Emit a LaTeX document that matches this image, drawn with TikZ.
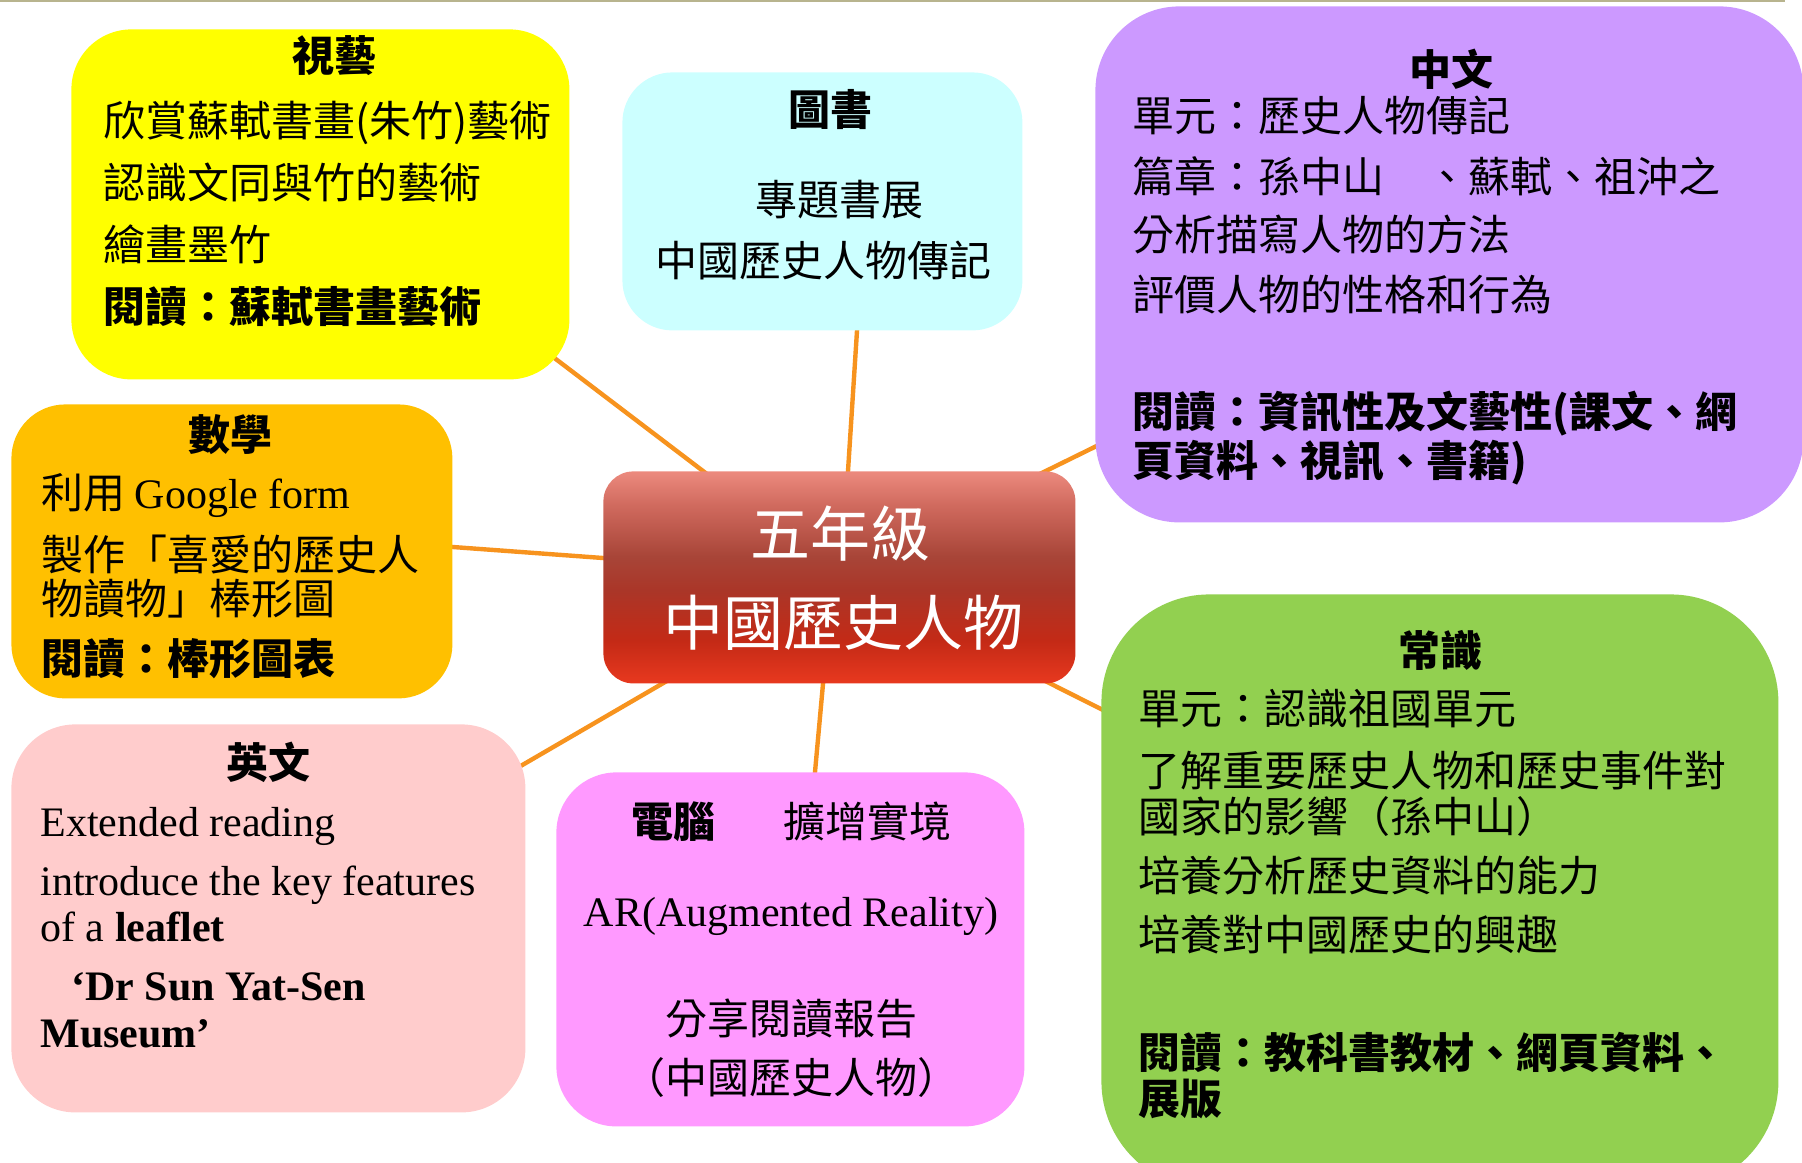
\documentclass[tikz,border=0pt]{standalone}
\usepackage{fontspec}
\setmainfont{Liberation Serif}
\newfontfamily\cjk{Noto Sans CJK TC}
\usetikzlibrary{calc}
\definecolor{cyel}{HTML}{FFFF00}
\definecolor{ccyan}{HTML}{CCFFFF}
\definecolor{cpurp}{HTML}{CC99FF}
\definecolor{cgold}{HTML}{FFC000}
\definecolor{cpink}{HTML}{FFCCCC}
\definecolor{cmag}{HTML}{FF99FF}
\definecolor{cgreen}{HTML}{92D050}
\definecolor{clink}{HTML}{F7931E}
\definecolor{ctopl}{HTML}{B8B48E}
\definecolor{sA}{HTML}{EC8A7E}
\definecolor{sB}{HTML}{D06A5E}
\definecolor{sC}{HTML}{A84538}
\definecolor{sD}{HTML}{AA3628}
\definecolor{sE}{HTML}{C42A16}
\definecolor{sF}{HTML}{E8391F}
\pgfdeclareverticalshading{ctrshade}{100bp}{color(0bp)=(sF); color(25bp)=(sF); color(35bp)=(sE); color(47bp)=(sD); color(55bp)=(sC); color(67bp)=(sB); color(75bp)=(sA); color(100bp)=(sA)}
\pgfdeclarelayer{background}
\pgfsetlayers{background,main}
\tikzset{
  panel/.style={draw=none, inner sep=0pt, anchor=north west, rectangle},
  bt/.style={anchor=base west, inner sep=0pt, font=\cjk\fontsize{21}{25}\selectfont},
  bb/.style={anchor=base west, inner sep=0pt, font=\cjk\bfseries\fontsize{21}{25}\selectfont},
  ct/.style={anchor=base, inner sep=0pt, font=\cjk\fontsize{21}{25}\selectfont},
  cb/.style={anchor=base, inner sep=0pt, font=\cjk\bfseries\fontsize{21}{25}\selectfont},
  lt/.style={anchor=base west, inner sep=0pt, font=\rmfamily\fontsize{21}{25}\selectfont},
  lb/.style={anchor=base west, inner sep=0pt, font=\rmfamily\bfseries\fontsize{21}{25}\selectfont},
  wt/.style={anchor=base, inner sep=0pt, text=white, font=\cjk\fontsize{30}{36}\selectfont},
  linkline/.style={draw=clink, line width=2.2pt, shorten <=-5pt, shorten >=-5pt},
}
\begin{document}
\begin{tikzpicture}[x=0.5pt,y=-0.5pt]
\useasboundingbox (0,0) rectangle (1802,1162);
\draw[ctopl, line width=1pt] (0,1) -- (1785,1);

% panels
\node[panel, fill=cyel, minimum width=249pt, minimum height=175pt, rounded corners=30pt] (viz) at (71,29) {};
\node[panel, fill=ccyan, minimum width=200pt, minimum height=129pt, rounded corners=25pt] (lib) at (622,72) {};
\node[panel, fill=cpurp, minimum width=354pt, minimum height=258pt, rounded corners=42pt] (chi) at (1095,6) {};
\node[panel, fill=cgold, minimum width=220.5pt, minimum height=147pt, rounded corners=27pt] (mat) at (11,404) {};
\node[panel, shade, shading=ctrshade, minimum width=236pt, minimum height=106pt, rounded corners=15pt] (ctr) at (603,471) {};
\node[panel, fill=cpink, minimum width=257pt, minimum height=194pt, rounded corners=32pt] (eng) at (11,724) {};
\node[panel, fill=cmag, minimum width=234pt, minimum height=177pt, rounded corners=30pt] (com) at (556,772) {};
\node[panel, fill=cgreen, minimum width=338.5pt, minimum height=297.5pt, rounded corners=54pt] (gen) at (1101,594) {};

% connectors
\begin{pgfonlayer}{background}
\draw[linkline] ($(viz.south east)+(-13,-20)$) -- ($(ctr.north west)+(100,0)$);
\draw[linkline] ($(lib.south west)+(235,0)$) -- ($(ctr.north west)+(245,0)$);
\draw[linkline] ($(chi.south west)+(0,-76)$) -- ($(ctr.north east)+(-30,0)$);
\draw[linkline] ($(mat.north east)+(0,143)$) -- ($(ctr.north west)+(0,87)$);
\draw[linkline] ($(eng.north east)+(0,39)$) -- ($(ctr.south west)+(59,0)$);
\draw[linkline] ($(com.north west)+(259,0)$) -- ($(ctr.south west)+(220,0)$);
\draw[linkline] ($(gen.north west)+(0,115)$) -- ($(ctr.south east)+(-25,0)$);
\end{pgfonlayer}

% 視藝
\node[cb] (vizT) at (334,71) {視藝};
\node[bt] (viz1) at (103,136) {欣賞蘇軾書畫(朱竹)藝術};
\node[bt] (viz2) at (103,198) {認識文同與竹的藝術};
\node[bt] (viz3) at (103,260) {繪畫墨竹};
\node[bb] (viz4) at (103,322) {閱讀：蘇軾書畫藝術};

% 圖書
\node[cb] (libT) at (830,125) {圖書};
\node[ct] (lib1) at (839,215) {專題書展};
\node[ct] (lib2) at (823,276) {中國歷史人物傳記};

% 中文
\node[cb] (chiT) at (1451,85) {中文};
\node[bt] (chi1) at (1132,131) {單元：歷史人物傳記};
\node[bt] (chi2) at (1132,192) {篇章：孫中山　、蘇軾、祖沖之};
\node[bt] (chi3) at (1132,250) {分析描寫人物的方法};
\node[bt] (chi4) at (1132,310) {評價人物的性格和行為};
\node[bb] (chi5) at (1132,427) {閱讀：資訊性及文藝性(課文、網};
\node[bb] (chi6) at (1132,476) {頁資料、視訊、書籍)};

% 數學
\node[cb] (matT) at (230,450) {數學};
\node[bt] (mat1) at (41,508) {利用 {\rmfamily Google form}};
\node[bt] (mat2) at (41,570) {製作「喜愛的歷史人};
\node[bt] (mat3) at (41,614) {物讀物」棒形圖};
\node[bb] (mat4) at (41,674) {閱讀：棒形圖表};

% center
\node[wt] (ctr1) at (840,556) {五年級};
\node[wt] (ctr2) at (843,645) {中國歷史人物};

% 英文
\node[cb] (engT) at (268,778) {英文};
\node[lt] (eng1) at (40,836) {Extended reading};
\node[lt] (eng2) at (40,895) {introduce the key features};
\node[lt] (eng3) at (40,941) {of a \textbf{leaflet}};
\node[lb] (eng4) at (71,1000) {‘Dr Sun Yat-Sen};
\node[lb] (eng5) at (40,1047) {Museum’};

% 電腦
\node[ct] (com1) at (791,837) {{\bfseries 電腦}\hspace{34pt}擴增實境};
\node[lt, anchor=base] (com2) at (791,926) {AR(Augmented Reality)};
\node[ct] (com3) at (791,1034) {分享閱讀報告};
\node[ct] (com4) at (791,1093) {（中國歷史人物）};

% 常識
\node[cb] (genT) at (1440,666) {常識};
\node[bt] (gen1) at (1138,724) {單元：認識祖國單元};
\node[bt] (gen2) at (1138,786) {了解重要歷史人物和歷史事件對};
\node[bt] (gen3) at (1138,832) {國家的影響（孫中山）};
\node[bt] (gen4) at (1138,891) {培養分析歷史資料的能力};
\node[bt] (gen5) at (1138,950) {培養對中國歷史的興趣};
\node[bb] (gen6) at (1138,1068) {閱讀：教科書教材、網頁資料、};
\node[bb] (gen7) at (1138,1114) {展版};
\end{tikzpicture}
\end{document}
